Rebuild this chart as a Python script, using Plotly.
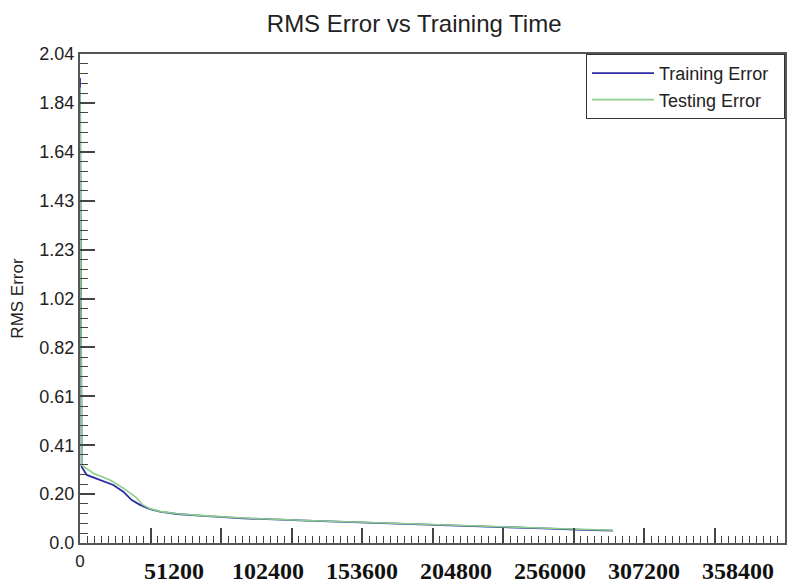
import plotly.graph_objects as go

# ---- data ----
train_x = [0, 900, 3650, 10900, 18140, 23580, 28160, 32680, 38130, 43570, 52670, 67160,
           88950, 123480, 147000, 169900, 192300, 214000, 233100, 252200, 270000, 290300]
train_y = [1.94, 0.318, 0.284, 0.263, 0.242, 0.214, 0.179, 0.159, 0.141, 0.131, 0.121, 0.113,
           0.103, 0.093, 0.0876, 0.082, 0.076, 0.071, 0.0667, 0.061, 0.056, 0.052]

test_x = [0, 900, 7240, 16340, 23580, 30880, 34000, 38130, 43570, 52670, 67160, 88950,
          123480, 147000, 169900, 192300, 214000, 233100, 252200, 270000, 290300]
test_y = [1.90, 0.325, 0.291, 0.263, 0.229, 0.188, 0.160, 0.143, 0.132, 0.122, 0.114, 0.104,
          0.094, 0.088, 0.0825, 0.0765, 0.0715, 0.067, 0.0615, 0.057, 0.053]

y_tickvals = [0, 0.204, 0.408, 0.612, 0.816, 1.02, 1.224, 1.428, 1.632, 1.836, 2.04]
y_ticktext = ["0.0", "0.20", "0.41", "0.61", "0.82", "1.02", "1.23", "1.43", "1.64", "1.84", "2.04"]

x_major = [38400 * k for k in range(11)]
x_major_text = ["0"] + [""] * 10

x_label_vals = [51200, 102400, 153600, 204800, 256000, 307200, 358400]
x_label_text = ["51200", "102400", "153600", "204800", "256000", "307200", "358400"]

SANS = "Liberation Sans, Arial, sans-serif"
SERIF = "Liberation Serif, Times New Roman, serif"
PAD = "\u00a0\u00a0"

# the page body has an 8px margin; the figure is sized to fit the 801x584 window
W, H = 793, 576

fig = go.Figure()
fig.add_trace(go.Scatter(x=train_x, y=train_y, mode="lines", name="Training Error" + PAD,
                         line=dict(color="#2c2ca6", width=1.8)))
fig.add_trace(go.Scatter(x=test_x, y=test_y, mode="lines", name="Testing Error" + PAD,
                         line=dict(color="#8ccf8c", width=1.6)))
# invisible trace to carry the second x axis (bold labels)
fig.add_trace(go.Scatter(x=[0], y=[0], xaxis="x2", mode="markers", showlegend=False,
                         marker=dict(opacity=0), hoverinfo="skip"))

fig.update_layout(
    width=W, height=H,
    margin=dict(l=72, r=16, t=46, b=41),
    paper_bgcolor="white", plot_bgcolor="white",
    title=dict(text="RMS Error vs Training Time", x=0.474, xref="paper", xanchor="center",
               y=1 - 16 / H, yref="container", yanchor="middle",
               font=dict(family=SANS, size=24, color="#222")),
    xaxis=dict(range=[0, 384000], tickmode="array", tickvals=x_major, ticktext=x_major_text,
               ticks="inside", ticklen=15, tickwidth=1.5, tickcolor="#444",
               minor=dict(tickmode="linear", tick0=0, dtick=3840, ticks="inside",
                          ticklen=7, tickwidth=1.2, tickcolor="#444", showgrid=False),
               showline=True, linecolor="#555", linewidth=2, mirror=True,
               showgrid=False, zeroline=False, automargin=False,
               tickfont=dict(family=SANS, size=17, color="#222"), ticklabelstandoff=2),
    xaxis2=dict(range=[0, 384000], overlaying="x", side="bottom", anchor="y",
                tickmode="array", tickvals=x_label_vals, ticktext=x_label_text,
                ticks="", showline=False, showgrid=False, zeroline=False, automargin=False,
                tickfont=dict(family=SERIF, size=24, color="#111", weight="bold"),
                ticklabelstandoff=11),
    yaxis=dict(range=[0, 2.04], tickmode="array", tickvals=y_tickvals, ticktext=y_ticktext,
               ticks="inside", ticklen=15, tickwidth=1.5, tickcolor="#444",
               minor=dict(tickmode="linear", tick0=0, dtick=0.0408, ticks="inside",
                          ticklen=8, tickwidth=1.2, tickcolor="#444", showgrid=False),
               showline=True, linecolor="#555", linewidth=2, mirror=True,
               showgrid=False, zeroline=False, automargin=False,
               tickfont=dict(family=SANS, size=18, color="#222"),
               title=dict(text="RMS Error", font=dict(family=SANS, size=17, color="#222"),
                          standoff=12)),
    legend=dict(x=1, y=1, xanchor="right", yanchor="top", bgcolor="white",
                bordercolor="#333", borderwidth=1,
                font=dict(family=SANS, size=18, color="#222"),
                itemwidth=62, tracegroupgap=0),
    showlegend=True,
)

fig.write_html("out.html")
